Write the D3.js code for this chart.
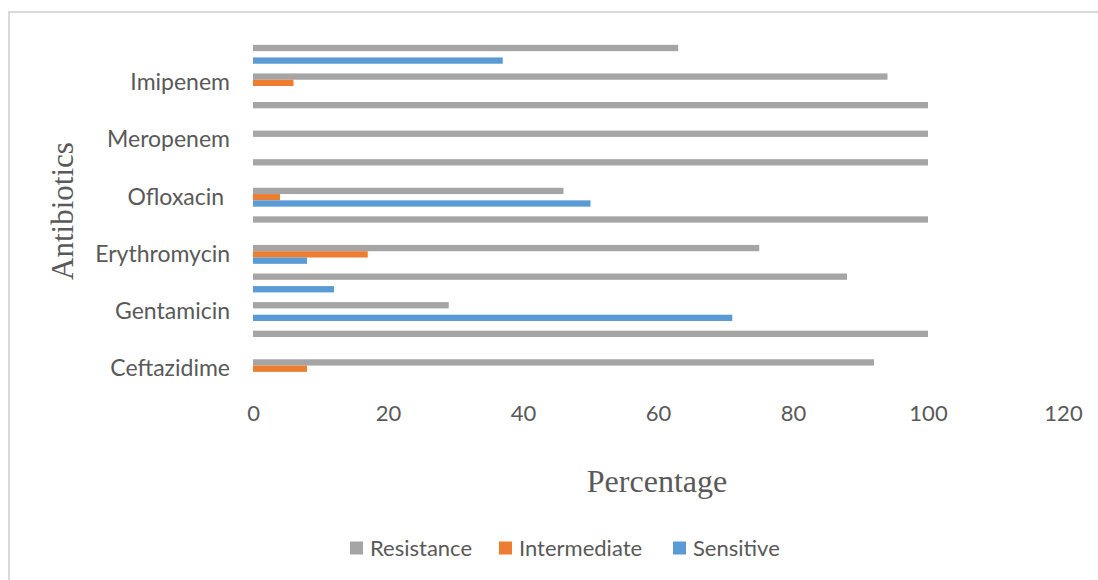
<!DOCTYPE html>
<html>
<head>
<meta charset="utf-8">
<script src="https://cdn.jsdelivr.net/npm/d3@7"></script>
<style>
  html, body { margin: 0; padding: 0; background: #fff; }
  text { white-space: pre; }
</style>
</head>
<body>
<svg id="chart" width="1098" height="580"></svg>
<script>
// ---- data (bottom to top, as in the chart) ----
const categories = [
  "Ceftazidime", "Unlabeled 1", "Gentamicin", "Unlabeled 3",
  "Erythromycin", "Unlabeled 5", "Ofloxacin ", "Unlabeled 7",
  "Meropenem", "Unlabeled 9", "Imipenem", "Unlabeled 11"
];
const shownLabels = ["Ceftazidime", "Gentamicin", "Erythromycin", "Ofloxacin ", "Meropenem", "Imipenem"];
const seriesNames = ["Resistance", "Intermediate", "Sensitive"];
const resistance   = [92, 100, 29, 88, 75, 100, 46, 100, 100, 100, 94, 63];
const intermediate = [ 8,   0,  0,  0, 17,   0,  4,   0,   0,   0,  6,  0];
const sensitive    = [ 0,   0, 71, 12,  8,   0, 50,   0,   0,   0,  0, 37];
const xTicks = [0, 20, 40, 60, 80, 100, 120];
const colors = ["#A5A5A5", "#ED7D31", "#5B9BD5"];

const seriesValues = [resistance, intermediate, sensitive];
const rows = [];
categories.forEach((c, i) => {
  seriesNames.forEach((s, j) => rows.push({ cat: c, series: s, value: seriesValues[j][i] }));
});

const svg = d3.select("#chart");
const sansFont = "Lato, 'Liberation Sans', sans-serif";
const serifFont = "'Liberation Serif', 'DejaVu Serif', serif";
const textColor = "#595959";

svg.append("rect").attr("width", 1098).attr("height", 580).attr("fill", "#fff");
svg.append("rect")
  .attr("x", 9).attr("y", 12).attr("width", 1200).attr("height", 700)
  .attr("fill", "none").attr("stroke", "#D9D9D9").attr("stroke-width", 2);

const x = d3.scaleLinear().domain([0, 120]).range([253, 1063]);
const y = d3.scaleBand().domain(categories.slice().reverse()).range([40, 383]).paddingInner(0).paddingOuter(0);
const ySub = d3.scaleBand().domain(seriesNames).range([0, y.bandwidth()]).paddingInner(0).paddingOuter(0.77);
const color = d3.scaleOrdinal().domain(seriesNames).range(colors);

// bars
svg.append("g").selectAll("rect")
  .data(rows.filter(d => d.value > 0))
  .join("rect")
  .attr("x", x(0))
  .attr("y", d => y(d.cat) + ySub(d.series))
  .attr("width", d => x(d.value) - x(0))
  .attr("height", ySub.bandwidth())
  .attr("fill", d => color(d.series));

// x axis (labels only)
const xAxis = svg.append("g")
  .attr("transform", "translate(0,405)")
  .call(d3.axisBottom(x).tickValues(xTicks).tickSize(0).tickPadding(0).tickFormat(d3.format("d")));
xAxis.select(".domain").remove();
xAxis.selectAll("text")
  .attr("dy", "0.71em")
  .attr("font-family", sansFont).attr("font-size", 22).attr("fill", textColor);

// y axis (labels only, every other category)
const yAxis = svg.append("g")
  .attr("transform", "translate(230,0)")
  .call(d3.axisLeft(y).tickSize(0).tickPadding(0)
    .tickFormat(d => shownLabels.includes(d) ? d : ""));
yAxis.select(".domain").remove();
yAxis.selectAll("text")
  .attr("font-family", sansFont).attr("font-size", 23).attr("fill", textColor);

// axis titles
svg.append("text")
  .attr("x", 657).attr("y", 492)
  .attr("text-anchor", "middle")
  .attr("font-family", serifFont).attr("font-size", 32).attr("fill", textColor)
  .text("Percentage");
svg.append("text")
  .attr("transform", "translate(73,211) rotate(-90)")
  .attr("text-anchor", "middle")
  .attr("font-family", serifFont).attr("font-size", 31).attr("fill", textColor)
  .text("Antibiotics");

// legend
const legendX = [350, 499, 673];
const legend = svg.append("g").selectAll("g")
  .data(seriesNames)
  .join("g")
  .attr("transform", (d, i) => `translate(${legendX[i]},548)`);
legend.append("rect")
  .attr("x", 0).attr("y", -6.5).attr("width", 13).attr("height", 13)
  .attr("fill", d => color(d));
legend.append("text")
  .attr("x", 20).attr("y", 0).attr("dy", "0.35em")
  .attr("font-family", sansFont).attr("font-size", 22).attr("fill", textColor)
  .text(d => d);
</script>
</body>
</html>
